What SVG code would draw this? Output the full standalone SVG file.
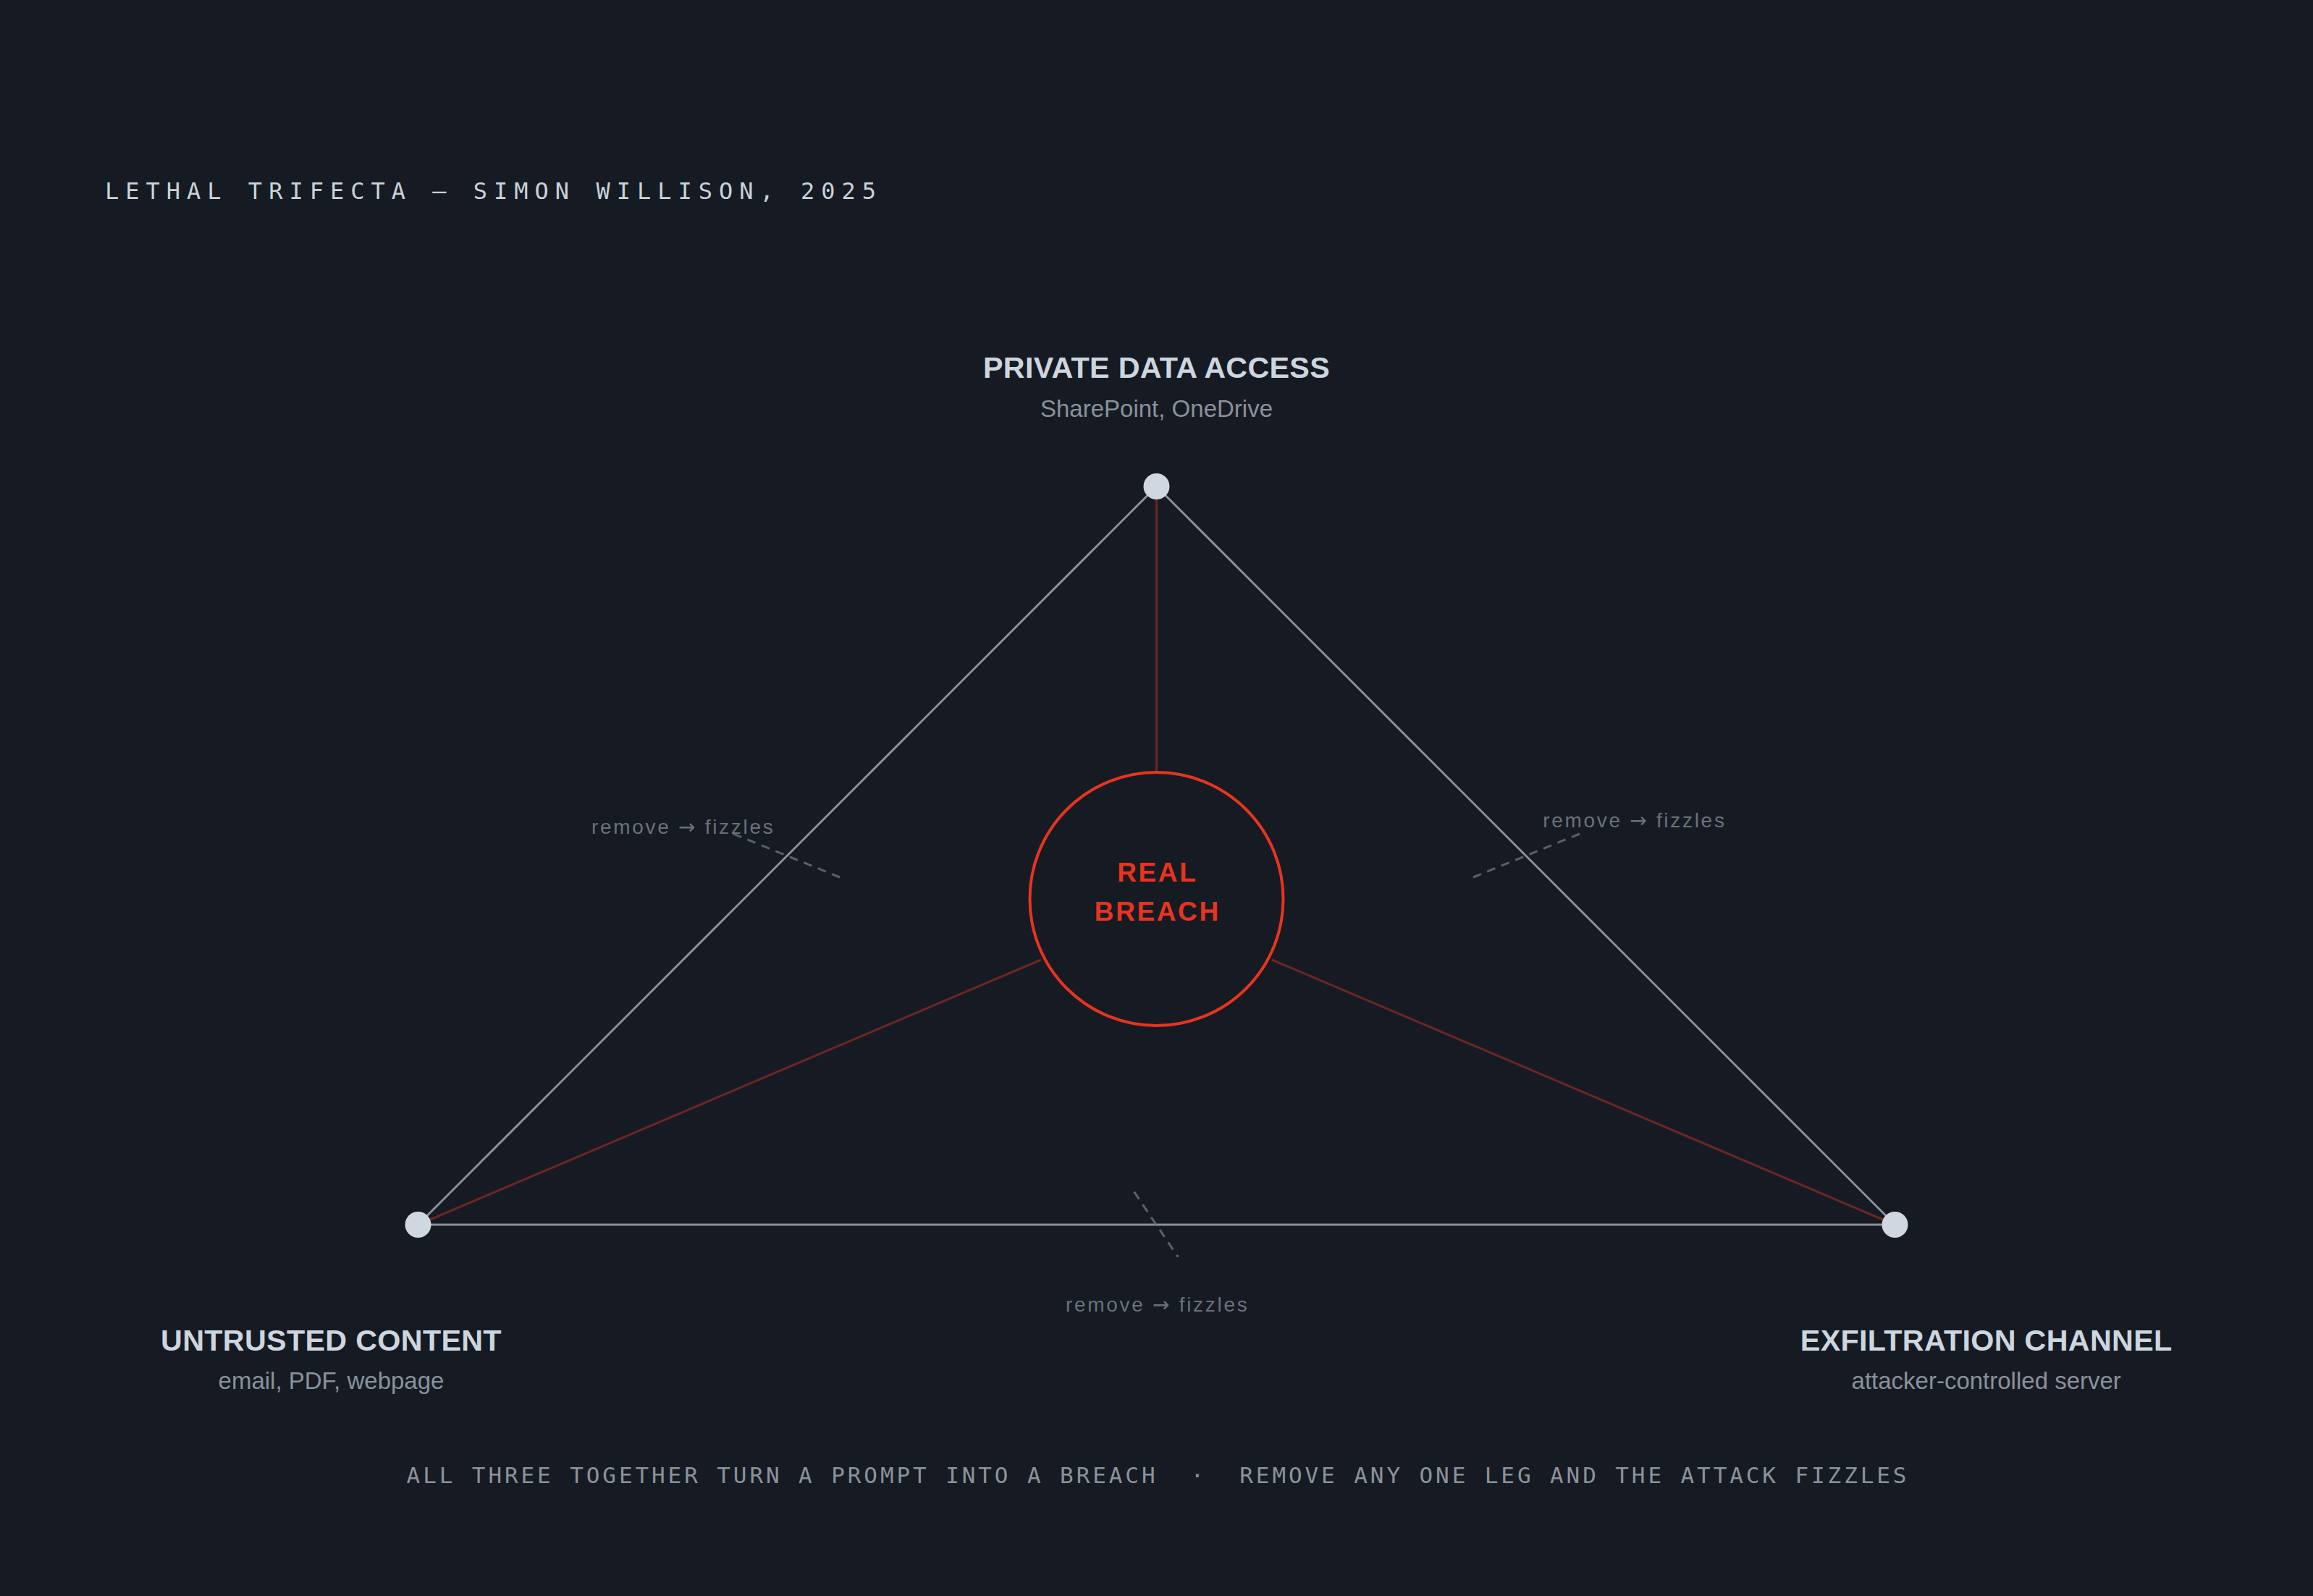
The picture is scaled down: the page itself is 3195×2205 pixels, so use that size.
<svg xmlns="http://www.w3.org/2000/svg" width="3195" height="2205" viewBox="0 0 3195 2205">
  <style>
    .mono { font-family: "DejaVu Sans Mono", "Liberation Mono", monospace; }
    .title { font-size: 32px; letter-spacing: 9px; fill: #c9d1d9; }
    .caption { font-size: 31px; letter-spacing: 3.9px; fill: #8b929b; }
    .sans { font-family: "Liberation Sans", Arial, Helvetica, sans-serif; }
    .head { font-size: 41.3px; font-weight: bold; fill: #cdd5df; letter-spacing: 0.3px; }
    .sub { font-size: 33px; fill: #8a919b; }
    .cutlabel { font-size: 28px; fill: #6b717b; letter-spacing: 2.7px; }
    .arrow { font-family: "Noto Sans", "DejaVu Sans", sans-serif; }
    .breach { font-size: 37px; font-weight: bold; fill: #e8341f; letter-spacing: 2.6px; }
    .edge { stroke: #8b9099; stroke-width: 3; fill: none; }
    .spoke { stroke: #6c2621; stroke-width: 3; fill: none; }
    .cut { stroke: #5a6069; stroke-width: 3; stroke-dasharray: 12 9; fill: none; }
    .dot { fill: #d0d7e0; }
  </style>
  <rect x="0" y="0" width="3195" height="2205" fill="#161b23"/>

  <text class="mono title" x="145" y="275">LETHAL TRIFECTA — SIMON WILLISON, 2025</text>

  <g id="connectors">
    <line class="spoke" x1="1597.5" y1="690" x2="1597.5" y2="1067"/>
    <line class="spoke" x1="577.5" y1="1692" x2="1438" y2="1326"/>
    <line class="spoke" x1="2617.5" y1="1692" x2="1757" y2="1326"/>
    <line class="edge" x1="1597.5" y1="672" x2="577.5" y2="1692"/>
    <line class="edge" x1="1597.5" y1="672" x2="2617.5" y2="1692"/>
    <line class="edge" x1="577.5" y1="1692" x2="2617.5" y2="1692"/>
    <line class="cut" x1="1013" y1="1152" x2="1160" y2="1212"/>
    <line class="cut" x1="2182" y1="1152" x2="2035" y2="1212"/>
    <line class="cut" x1="1566.7" y1="1646.7" x2="1627.3" y2="1736.7"/>
    <text class="sans cutlabel" x="943.7" y="1152" text-anchor="middle">remove <tspan class="arrow">→</tspan> fizzles</text>
    <text class="sans cutlabel" x="2257.9" y="1143" text-anchor="middle">remove <tspan class="arrow">→</tspan> fizzles</text>
    <text class="sans cutlabel" x="1598.7" y="1812" text-anchor="middle">remove <tspan class="arrow">→</tspan> fizzles</text>
  </g>

  <g id="node-private">
    <circle class="dot" cx="1597.5" cy="672" r="18"/>
    <text class="sans head" x="1597.5" y="522" text-anchor="middle">PRIVATE DATA ACCESS</text>
    <text class="sans sub" x="1597.5" y="576" text-anchor="middle">SharePoint, OneDrive</text>
  </g>

  <g id="node-untrusted">
    <circle class="dot" cx="577.5" cy="1692" r="18"/>
    <text class="sans head" x="457.5" y="1866" text-anchor="middle">UNTRUSTED CONTENT</text>
    <text class="sans sub" x="457.5" y="1919" text-anchor="middle">email, PDF, webpage</text>
  </g>

  <g id="node-exfil">
    <circle class="dot" cx="2617.5" cy="1692" r="18"/>
    <text class="sans head" x="2743.7" y="1866" text-anchor="middle">EXFILTRATION CHANNEL</text>
    <text class="sans sub" x="2743.7" y="1919" text-anchor="middle">attacker-controlled server</text>
  </g>

  <g id="node-breach">
    <circle cx="1597.5" cy="1242" r="175" fill="none" stroke="#e8341f" stroke-width="4"/>
    <text class="sans breach" x="1598.8" y="1218" text-anchor="middle">REAL</text>
    <text class="sans breach" x="1598.8" y="1272" text-anchor="middle">BREACH</text>
  </g>

  <text class="mono caption" x="1599.5" y="2049" text-anchor="middle" xml:space="preserve">ALL THREE TOGETHER TURN A PROMPT INTO A BREACH  ·  REMOVE ANY ONE LEG AND THE ATTACK FIZZLES</text>
</svg>
